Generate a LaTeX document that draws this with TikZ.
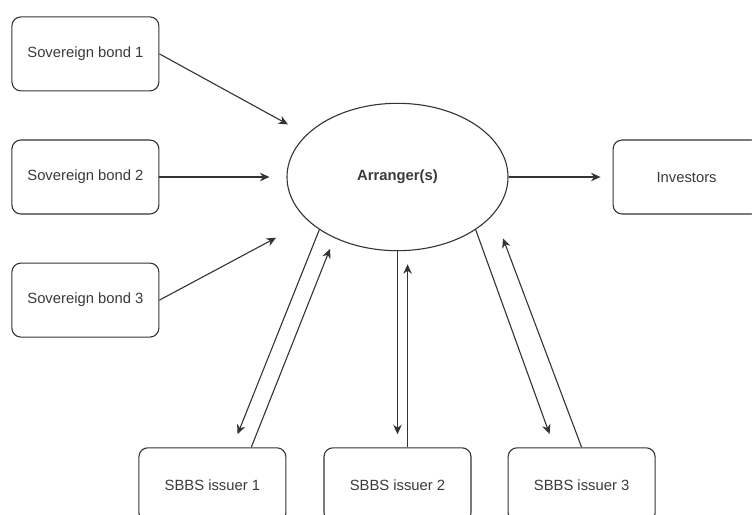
\documentclass[tikz,border=0pt]{standalone}
\usepackage{fontspec}
\setmainfont{Liberation Sans}
\usepackage{xcolor}
\usetikzlibrary{arrows.meta,positioning,shapes.geometric}
\definecolor{FlowLine}{HTML}{333333}
\definecolor{FlowText}{HTML}{3A3A3A}

\begin{document}
\begin{tikzpicture}[
  x=1pt, y=1pt,
  box/.style={draw=FlowLine, line width=1.1pt, rounded corners=9pt, fill=white, minimum width=147pt, minimum height=74pt, align=center, inner sep=0pt, text=FlowText, font=\fontsize{14.8}{17}\selectfont},
  hub/.style={draw=FlowLine, line width=1.1pt, ellipse, fill=white, minimum width=221pt, minimum height=147.4pt, inner sep=0pt, text=FlowText, font=\fontsize{14.8}{17}\selectfont\bfseries},
  arrow/.style={-{Stealth[length=9.5pt,width=8.5pt,inset=3pt]}, line width=1.1pt, draw=FlowLine}
]
  \useasboundingbox (0,0) rectangle (752,-514);
  \clip (0,0) rectangle (752,-514);

  \node[hub] (arr) at (397.5,-177) {Arranger(s)};
  \node[box, left=127pt of arr] (sb2) {Sovereign bond 2};
  \node[box, above=48pt of sb2] (sb1) {Sovereign bond 1};
  \node[box, below=48pt of sb2] (sb3) {Sovereign bond 3};
  \node[box, right=104pt of arr] (inv) {Investors};
  \node[box, below=196pt of arr] (iss2) {SBBS issuer 2};
  \node[box, left=37pt of iss2] (iss1) {SBBS issuer 1};
  \node[box, right=36pt of iss2] (iss3) {SBBS issuer 3};

  % bonds into the arranger
  \draw[arrow, shorten >=21pt] (sb1.east) -- (arr.155);
  \draw[arrow, shorten >=17pt] (sb2.east) -- (arr.west);
  \draw[arrow, shorten >=36pt] (sb3.east) -- (arr.206.8);
  \draw[arrow, shorten >=12pt] (arr.east) -- (inv.west);

  % arranger <-> issuers
  \draw[arrow, shorten >=14pt] (arr.214) -- (iss1.62.8);
  \draw[arrow, shorten >=11.6pt] (iss1.44.2) -- (arr.224.5);
  \draw[arrow, shorten >=13pt] (arr.south) -- (arr.south |- iss2.north);
  \draw[arrow, shorten >=13pt] (iss2.75.6) -- (iss2.75.6 |- arr.south);
  \draw[arrow, shorten >=14pt] (arr.326.5) -- (iss3.126.5);
  \draw[arrow, shorten >=26pt] (iss3.north) -- (arr.339.3);
\end{tikzpicture}
\end{document}
